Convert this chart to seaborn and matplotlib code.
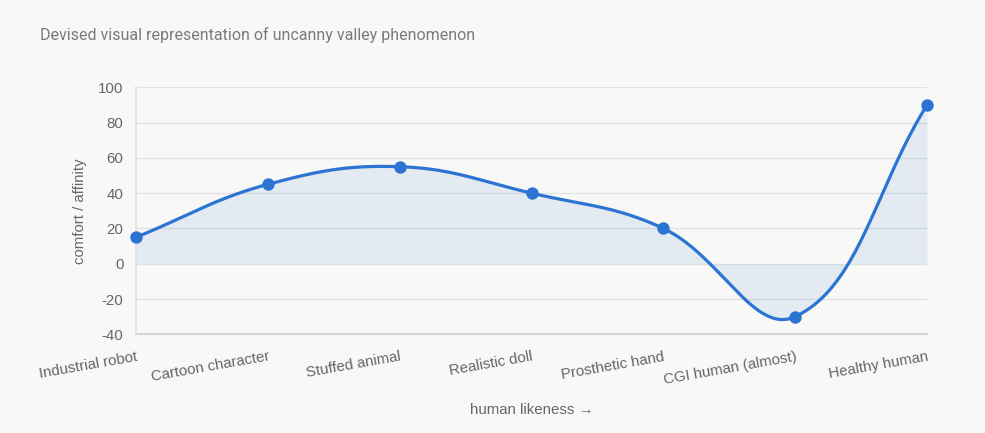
import numpy as np
import pandas as pd
import seaborn as sns
import matplotlib
matplotlib.use("Agg")
import matplotlib.pyplot as plt

# data
categories = ["Industrial robot", "Cartoon character", "Stuffed animal", "Realistic doll",
              "Prosthetic hand", "CGI human (almost)", "Healthy human"]
affinity = [15, 45, 55, 40, 20, -30, 90]
y_ticks = [-40, -20, 0, 20, 40, 60, 80, 100]

line_color = "#2b74d3"
fill_color = "#2b74d3"
bg = "#f8f8f6"
text_gray = "#666666"
grid_gray = "#e2e2e2"

sns.set_theme(style="white")
plt.rcParams['font.family'] = ['Liberation Sans', 'DejaVu Sans']
plt.rcParams['axes.unicode_minus'] = False

df = pd.DataFrame({"idx": np.arange(len(categories)), "category": categories, "affinity": affinity})

fig = plt.figure(figsize=(9.85, 4.33), dpi=100)
fig.patch.set_facecolor(bg)
ax = fig.add_axes([136 / 985, 1 - 334.3 / 433, (927 - 136) / 985, (334.3 - 87.3) / 433])
ax.set_facecolor(bg)
ax.set_xlim(0, len(categories) - 1)
ax.set_ylim(-40, 100)

# smooth curve the way chart.js does it (tension 0.4, control points in pixel space)
tension = 0.4
pts = ax.transData.transform(np.column_stack([df["idx"], df["affinity"]]).astype(float))
n = len(pts)
ctrl_prev = np.zeros_like(pts)
ctrl_next = np.zeros_like(pts)
for i in range(n):
    prev = pts[i - 1] if i > 0 else pts[i]
    nxt = pts[i + 1] if i < n - 1 else pts[i]
    d01 = np.hypot(*(pts[i] - prev))
    d12 = np.hypot(*(nxt - pts[i]))
    tot = d01 + d12
    s01 = d01 / tot if tot else 0
    s12 = d12 / tot if tot else 0
    ctrl_prev[i] = pts[i] - tension * s01 * (nxt - prev)
    ctrl_next[i] = pts[i] + tension * s12 * (nxt - prev)

t = np.linspace(0, 1, 80)[:, None]
curve = []
for i in range(n - 1):
    p0, p1, p2, p3 = pts[i], ctrl_next[i], ctrl_prev[i + 1], pts[i + 1]
    seg = (1 - t) ** 3 * p0 + 3 * (1 - t) ** 2 * t * p1 + 3 * (1 - t) * t ** 2 * p2 + t ** 3 * p3
    curve.append(seg if i == 0 else seg[1:])
curve = ax.transData.inverted().transform(np.vstack(curve))

ax.fill_between(curve[:, 0], curve[:, 1], 0, color=fill_color, alpha=0.1, lw=0, zorder=1)
ax.plot(curve[:, 0], curve[:, 1], color=line_color, lw=2.3, zorder=3, solid_capstyle="round")
sns.scatterplot(data=df, x="idx", y="affinity", ax=ax, s=80, color=line_color,
                edgecolor=line_color, linewidth=0, zorder=4, clip_on=False, legend=False)

ax.set_yticks(y_ticks)
ax.set_xticks(df["idx"])
ax.set_xticklabels(categories, rotation=10, ha="right", rotation_mode="anchor")
ax.grid(axis="y", color=grid_gray, lw=1)
ax.grid(axis="x", visible=False)
ax.set_axisbelow(True)
for s in ["top", "right"]:
    ax.spines[s].set_visible(False)
ax.spines["left"].set_color(grid_gray)
ax.spines["bottom"].set_color("#cfcfcf")
ax.tick_params(axis="y", length=7, color=grid_gray, labelcolor=text_gray, labelsize=10.8, pad=2)
ax.tick_params(axis="x", length=0, labelcolor=text_gray, labelsize=10.8, pad=11)
ax.set_xlabel("")
ax.set_ylabel("")

fig.text(80 / 985, 1 - 211 / 433, "comfort / affinity", rotation=90, ha="center", va="center",
         color=text_gray, fontsize=10.7)
fig.text(531.5 / 985, 1 - 410 / 433, "human likeness \u2192", ha="center", va="center",
         color=text_gray, fontsize=10.8)
fig.text(40 / 985, 1 - 35 / 433, "Devised visual representation of uncanny valley phenomenon",
         ha="left", va="center", color="#7a7a7a", fontsize=11.5, family=["Roboto", "DejaVu Sans"])

fig.savefig("out.png", dpi=100, facecolor=bg)
